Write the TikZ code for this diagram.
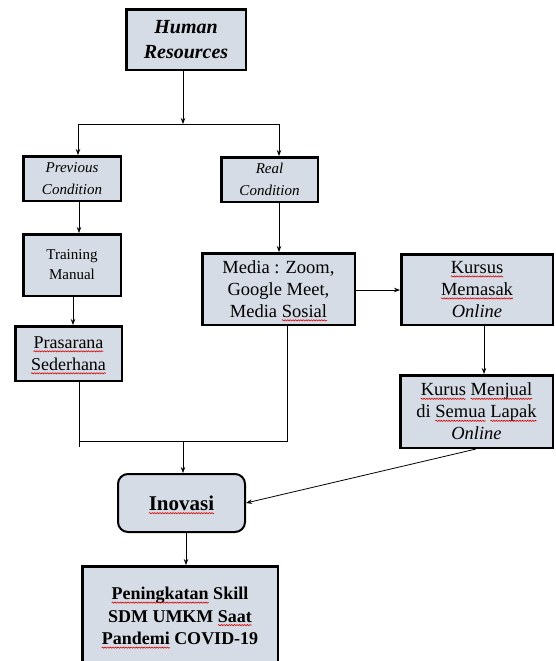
\documentclass[tikz,border=0pt]{standalone}
\usepackage{fontspec}
\setmainfont{Liberation Serif}
\newfontfamily\tnr{Liberation Serif}
\usetikzlibrary{arrows.meta,calc,decorations.pathmorphing}
\definecolor{boxfill}{HTML}{D6DCE5}
\newsavebox\rwbox
\newcommand\rw[1]{\sbox\rwbox{#1}\usebox\rwbox\kern-\wd\rwbox
  \tikz[overlay,baseline=0pt]{\draw[red!85!black,line width=0.6pt,sharp corners,decorate,
    decoration={snake,segment length=2.6pt,amplitude=0.6pt}] (0pt,-3pt) -- (\wd\rwbox,-3pt);}%
  \kern\wd\rwbox\relax}
\begin{document}
\begin{tikzpicture}[x=1pt,y=-1pt,
  box/.style={draw=black,fill=boxfill,line width=2.5pt,align=center,inner sep=0pt},
  arr/.style={-{Stealth[length=6pt,width=4.5pt]},line width=0.8pt},
  ln/.style={line width=0.8pt}]
\useasboundingbox (0,0) rectangle (555,661);

% boxes
\node[box,minimum width=119.5pt,minimum height=60.5pt,
  font=\tnr\fontsize{20}{25}\selectfont\bfseries\itshape] (hr) at (186,40)
  {Human\\Resources};
\node[box,minimum width=97.5pt,minimum height=44.5pt,
  font=\tnr\fontsize{15}{22}\selectfont\itshape] (prev) at (72,178.5)
  {Previous\\Condition};
\node[box,minimum width=96.5pt,minimum height=44.5pt,
  font=\tnr\fontsize{15}{22}\selectfont\itshape] (real) at (269.5,179.5)
  {Real\\Condition};
\node[box,minimum width=97.5pt,minimum height=61.5pt,
  font=\tnr\fontsize{15}{20}\selectfont] (train) at (72,265)
  {Training\\Manual};
\node[box,minimum width=106.5pt,minimum height=54.5pt,
  font=\tnr\fontsize{18}{22}\selectfont] (pras) at (68.5,353.5)
  {\rw{Prasarana}\\\rw{Sederhana}};
\node[box,minimum width=152.5pt,minimum height=71.5pt,
  font=\tnr\fontsize{18.5}{22}\selectfont] (media) at (278.5,289)
  {Media : Zoom,\\Google Meet,\\Media \rw{Sosial}};
\node[box,minimum width=151.5pt,minimum height=70.5pt,
  font=\tnr\fontsize{18.5}{22}\selectfont] (kmas) at (477,289.5)
  {\rw{Kursus}\\\rw{Memasak}\\\textit{Online}};
\node[box,minimum width=152.5pt,minimum height=72.5pt,
  font=\tnr\fontsize{18.5}{22}\selectfont] (kjual) at (476.5,411.5)
  {\rw{Kurus} \rw{Menjual}\\di \rw{Semua} \rw{Lapak}\\\textit{Online}};
\node[box,line width=2pt,rounded corners=10pt,minimum width=127pt,minimum height=58pt,
  font=\tnr\fontsize{21}{25}\selectfont\bfseries] (inov) at (181.5,503)
  {\rw{Inovasi}};
\node[box,minimum width=195.5pt,minimum height=104.5pt] (pen) at (180,618.5) {};
\node[align=center,inner sep=0pt,font=\tnr\fontsize{18}{22.5}\selectfont\bfseries] (pent) at (180,616)
  {\rw{Peningkatan} Skill\\SDM UMKM \rw{Saat}\\\rw{Pandemi} COVID-19};

% junction coordinates
\coordinate (j1) at (183,124);
\coordinate (jl) at (78,124);
\coordinate (jr) at (279,124);
\coordinate (c1) at (79,0);
\coordinate (c2) at (73,0);
\coordinate (c3) at (0,290);
\coordinate (c4) at (484,0);
\coordinate (jb) at (79,447);
\coordinate (jh) at (79,441);
\coordinate (jm) at (287,441);
\coordinate (j2) at (183,441);
\coordinate (c5) at (476,0);
\coordinate (c6) at (186,0);

% connectors
\draw[arr] (hr.south -| j1) -- (j1);
\draw[ln] (jl) -- (jr);
\draw[arr] (jl) -- (jl |- prev.north);
\draw[arr] (jr) -- (jr |- real.north);
\draw[arr] (prev.south -| c1) -- (train.north -| c1);
\draw[arr] (train.south -| c2) -- (pras.north -| c2);
\draw[arr] (real.south -| jr) -- (media.north -| jr);
\draw[arr] (media.east |- c3) -- (kmas.west |- c3);
\draw[arr] (kmas.south -| c4) -- (kjual.north -| c4);
\draw[ln] (pras.south -| jb) -- (jb);
\draw[ln] (jh) -- (jm) -- (media.south -| jm);
\draw[arr] (j2) -- (inov.north -| j2);
\draw[arr] (kjual.south -| c5) -- (inov.east);
\draw[arr] (inov.south -| c6) -- (pen.north -| c6);
\end{tikzpicture}
\end{document}
